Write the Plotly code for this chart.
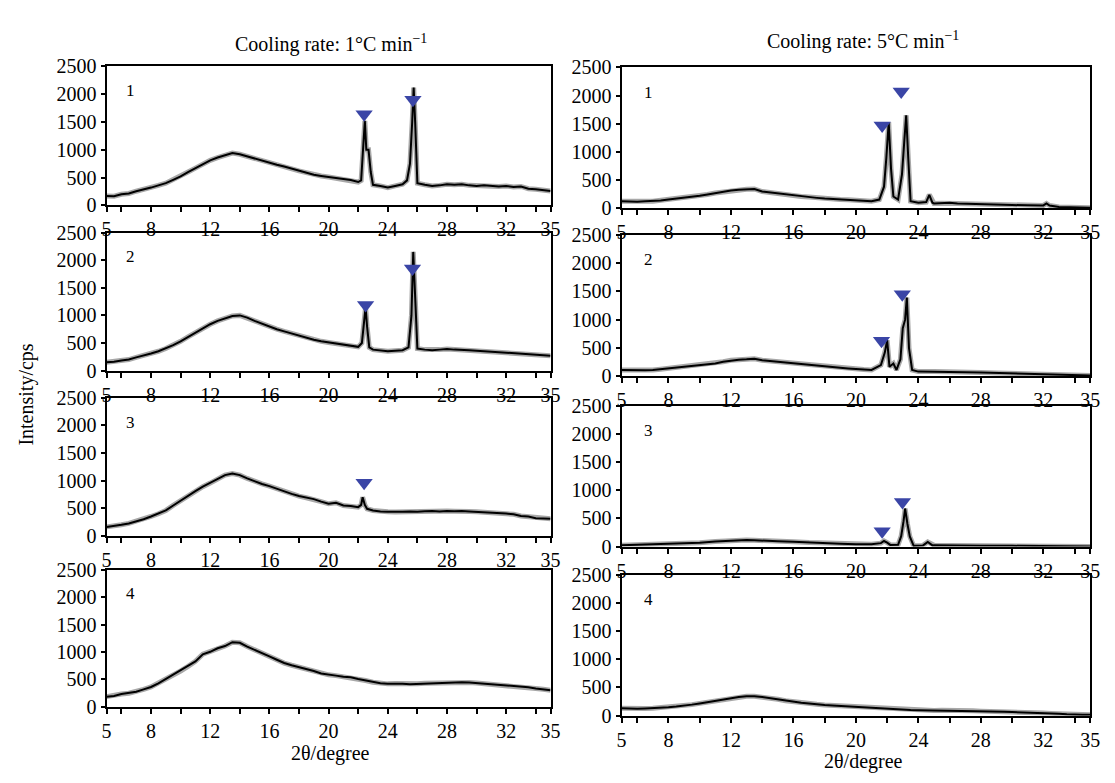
import plotly.graph_objects as go

# ---------------- data ----------------
# Left column: cooling rate 1 °C/min, samples 1-4
L1_x = [5,5.5,6,6.5,7,7.5,8,8.5,9,9.5,10,10.5,11,11.5,12,12.5,13,13.5,14,14.5,15,15.5,16,16.5,17,17.5,18,18.5,19,19.5,20,20.5,21,21.5,22,22.2,22.35,22.45,22.55,22.7,22.85,23.0,23.5,24,24.5,25,25.3,25.5,25.65,25.75,25.85,26.0,26.5,27,27.5,28,28.5,29,29.5,30,30.5,31,31.5,32,32.5,33,33.5,34,34.5,35]
L1_y = [170,165,200,215,255,285,320,360,400,460,520,600,670,750,810,860,900,940,920,880,840,800,760,730,700,660,620,590,550,530,510,490,480,455,420,450,1100,1520,1000,1000,600,370,350,320,350,380,450,750,1500,2120,1500,400,370,350,360,380,370,380,360,350,360,350,340,350,330,340,300,290,270,260]

L2_x = [5,5.5,6,6.5,7,7.5,8,8.5,9,9.5,10,10.5,11,11.5,12,12.5,13,13.5,14,14.5,15,15.5,16,16.5,17,17.5,18,18.5,19,19.5,20,20.5,21,21.5,22,22.25,22.4,22.5,22.6,22.75,23.0,23.5,24,24.5,25,25.4,25.6,25.72,25.85,26.0,26.5,27,27.5,28,28.5,29,29.5,30,30.5,31,31.5,32,32.5,33,33.5,34,34.5,35]
L2_y = [150,160,185,200,240,270,310,350,400,460,530,610,690,770,840,900,950,990,1000,960,900,850,790,750,710,670,630,590,560,530,510,490,470,450,430,500,900,1150,800,420,380,360,350,360,370,420,1000,2150,1200,400,380,370,380,390,380,380,370,360,350,340,340,330,320,310,300,290,280,270]

L3_x = [5,5.5,6,6.5,7,7.5,8,8.5,9,9.5,10,10.5,11,11.5,12,12.5,13,13.5,14,14.5,15,15.5,16,16.5,17,17.5,18,18.5,19,19.5,20,20.5,21,21.5,22,22.2,22.3,22.45,22.6,23,23.5,24,24.5,25,25.5,26,26.5,27,27.5,28,28.5,29,29.5,30,30.5,31,31.5,32,32.5,33,33.5,34,34.5,35]
L3_y = [162,175,200,225,260,300,350,400,460,550,640,720,810,890,955,1030,1100,1130,1100,1040,985,940,900,850,810,760,720,690,665,620,580,600,550,540,520,560,700,560,490,460,440,435,430,435,440,435,445,450,440,450,445,450,440,435,430,420,415,405,390,360,350,320,315,310]

L4_x = [5,5.5,6,6.5,7,7.5,8,8.5,9,9.5,10,10.5,11,11.5,12,12.5,13,13.5,14,14.5,15,15.5,16,16.5,17,17.5,18,18.5,19,19.5,20,20.5,21,21.5,22,22.5,23,23.5,24,24.5,25,25.5,26,26.5,27,27.5,28,28.5,29,29.5,30,30.5,31,31.5,32,32.5,33,33.5,34,34.5,35]
L4_y = [187,200,234,250,275,320,363,430,510,580,655,740,830,960,1005,1070,1110,1180,1170,1100,1035,980,920,860,800,760,725,700,655,610,585,570,550,540,510,480,450,430,420,425,420,415,420,430,435,430,435,440,450,445,435,425,410,400,390,385,375,360,335,320,305]

# Right column: cooling rate 5 °C/min, samples 1-4
R1_x = [5,5.5,6,6.5,7,7.5,8,8.5,9,9.5,10,10.5,11,11.5,12,12.5,13,13.5,14,14.5,15,15.5,16,16.5,17,17.5,18,18.5,19,19.5,20,20.5,21,21.5,21.8,21.95,22.1,22.25,22.4,22.7,22.95,23.1,23.22,23.35,23.5,24,24.5,24.7,24.9,25,25.5,26,26.5,27,27.5,28,29,30,31,32,32.2,32.4,33,34,35]
R1_y = [126,120,115,125,126,140,155,170,183,200,223,245,270,290,315,330,337,343,297,280,257,240,223,210,200,185,172,165,155,150,143,135,126,155,383,900,1530,700,210,155,600,1200,1650,900,126,97,110,240,100,86,90,97,85,80,75,69,62,57,55,51,86,50,23,17,11]

R2_x = [5,5.5,6,6.5,7,7.5,8,8.5,9,9.5,10,10.5,11,11.5,12,12.5,13,13.5,14,14.5,15,15.5,16,16.5,17,17.5,18,18.5,19,19.5,20,20.5,21,21.6,21.85,22.0,22.15,22.4,22.6,22.85,23.0,23.15,23.26,23.4,23.6,24,25,26,27,28,29,30,31,32,33,34,35]
R2_y = [114,110,102,108,114,128,142,155,170,185,199,212,227,260,284,295,301,312,284,270,256,240,227,212,199,185,170,160,153,140,130,122,114,200,420,640,170,227,114,300,850,1000,1390,500,114,85,85,85,75,68,62,57,52,45,38,28,17]

R3_x = [5,6,7,8,9,10,11,12,12.5,13,13.5,14,15,16,17,18,19,20,21,21.6,21.8,22.0,22.2,22.7,22.9,23.05,23.15,23.3,23.45,23.7,24.3,24.6,24.9,25,26,27,28,30,32,33,34,35]
R3_y = [23,30,40,52,60,69,90,109,112,115,110,109,95,86,70,58,50,40,40,60,98,70,29,30,184,450,674,400,180,12,20,80,20,23,18,15,12,12,12,8,5,2]

R4_x = [5,5.5,6,6.5,7,7.5,8,8.5,9,9.5,10,10.5,11,11.5,12,12.5,13,13.5,14,14.5,15,15.5,16,16.5,17,17.5,18,18.5,19,19.5,20,20.5,21,21.5,22,22.5,23,23.5,24,24.5,25,25.5,26,26.5,27,27.5,28,28.5,29,29.5,30,30.5,31,31.5,32,32.5,33,33.5,34,34.5,35]
R4_y = [131,125,120,128,131,140,148,160,171,195,217,240,263,290,314,330,342,345,331,310,291,265,245,230,217,200,188,180,171,165,160,150,143,130,120,110,103,100,97,95,91,95,97,90,86,85,80,78,74,70,63,60,57,52,46,40,34,25,17,15,17]

# Peak markers (▼) per panel: x positions and heights
M_L1_x, M_L1_y = [22.4, 25.7], [1640, 1900]
M_L2_x, M_L2_y = [22.5, 25.67], [1190, 1850]
M_L3_x, M_L3_y = [22.4], [960]
M_R1_x, M_R1_y = [21.68, 22.9], [1470, 2070]
M_R2_x, M_R2_y = [21.64, 22.97], [630, 1450]
M_R3_x, M_R3_y = [21.68, 22.98], [270, 790]

panel_labels = ["1", "2", "3", "4"]
x_tick_vals = [5, 8, 12, 16, 20, 24, 28, 32, 35]
x_minor_vals = [6, 10, 14, 18, 22, 26, 30, 34]
y_tick_vals = [0, 500, 1000, 1500, 2000, 2500]
col_titles = ["Cooling rate: 1°C min<sup>−1</sup>", "Cooling rate: 5°C min<sup>−1</sup>"]
x_title = "2θ/degree"
y_title = "Intensity/cps"

# ---------------- layout geometry (pixels) ----------------
W, H = 1115, 783
FONT = "Liberation Serif"
col_x_px = [(103, 553), (625, 1100)]
rows_px = [
    [(57, 200), (228, 370), (398, 540), (575, 716)],   # left column (top, bottom)
    [(58, 203), (230, 376), (406, 551), (580, 725)],   # right column
]

series = [
    [(L1_x, L1_y), (L2_x, L2_y), (L3_x, L3_y), (L4_x, L4_y)],
    [(R1_x, R1_y), (R2_x, R2_y), (R3_x, R3_y), (R4_x, R4_y)],
]
markers = [
    [(M_L1_x, M_L1_y), (M_L2_x, M_L2_y), (M_L3_x, M_L3_y), None],
    [(M_R1_x, M_R1_y), (M_R2_x, M_R2_y), (M_R3_x, M_R3_y), None],
]

fig = go.Figure()
layout = dict(
    width=W, height=H,
    margin=dict(l=0, r=0, t=0, b=0),
    paper_bgcolor="white", plot_bgcolor="white",
    showlegend=False,
    font=dict(family=FONT, size=20, color="black"),
    annotations=[],
)

idx = 0
for c in range(2):
    for r in range(4):
        idx += 1
        xa = "x" if idx == 1 else f"x{idx}"
        ya = "y" if idx == 1 else f"y{idx}"
        xkey = "xaxis" if idx == 1 else f"xaxis{idx}"
        ykey = "yaxis" if idx == 1 else f"yaxis{idx}"
        x0, x1 = col_x_px[c]
        top, bot = rows_px[c][r]
        layout[xkey] = dict(
            domain=[x0 / W, x1 / W], anchor=ya, range=[5, 35],
            tickmode="array", tickvals=x_tick_vals, ticktext=[str(v) for v in x_tick_vals],
            ticks="outside", ticklen=5, tickwidth=1.5, tickcolor="black",
            minor=dict(tickmode="array", tickvals=x_minor_vals, ticks="outside",
                       ticklen=5, tickwidth=1.5, tickcolor="black"),
            showline=True, linecolor="black", linewidth=2, mirror=True,
            showgrid=False, zeroline=False,
            tickfont=dict(family=FONT, size=20, color="black"),
        )
        layout[ykey] = dict(
            domain=[1 - bot / H, 1 - top / H], anchor=xa, range=[0, 2500],
            tickmode="array", tickvals=y_tick_vals,
            ticks="outside", ticklen=4, tickwidth=1.5, tickcolor="black",
            showline=True, linecolor="black", linewidth=2, mirror=True,
            showgrid=False, zeroline=False,
            tickfont=dict(family=FONT, size=20, color="black"),
        )
        xs, ys = series[c][r]
        # grey halo underneath to mimic the noisy, thick trace of the original
        fig.add_trace(go.Scatter(x=xs, y=ys, mode="lines", xaxis=xa, yaxis=ya,
                                 line=dict(color="#a8a8a8", width=5), hoverinfo="skip"))
        fig.add_trace(go.Scatter(x=xs, y=ys, mode="lines", xaxis=xa, yaxis=ya,
                                 line=dict(color="black", width=2)))
        m = markers[c][r]
        if m is not None:
            fig.add_trace(go.Scatter(x=m[0], y=m[1], mode="markers", xaxis=xa, yaxis=ya,
                                     marker=dict(symbol="triangle-down", size=15,
                                                 color="#3a45a6", line=dict(width=0))))
        layout["annotations"].append(dict(
            x=6.6 if c == 0 else 6.7, y=2060, xref=xa, yref=ya, text=panel_labels[r],
            xanchor="center", yanchor="middle",
            showarrow=False, font=dict(family=FONT, size=17, color="black"),
        ))


def paper_text(px, py, text, angle=0):
    return dict(x=px / W, y=1 - py / H, xref="paper", yref="paper", text=text,
                xanchor="center", yanchor="middle", showarrow=False, textangle=angle,
                font=dict(family=FONT, size=20, color="black"))


layout["annotations"].append(paper_text(330, 33, col_titles[0]))
layout["annotations"].append(paper_text(870, 30, col_titles[1]))
layout["annotations"].append(paper_text(330, 764, x_title))
layout["annotations"].append(paper_text(870, 772, x_title))
layout["annotations"].append(paper_text(22, 395, y_title, angle=-90))

fig.update_layout(**layout)
fig.write_html("out.html")
